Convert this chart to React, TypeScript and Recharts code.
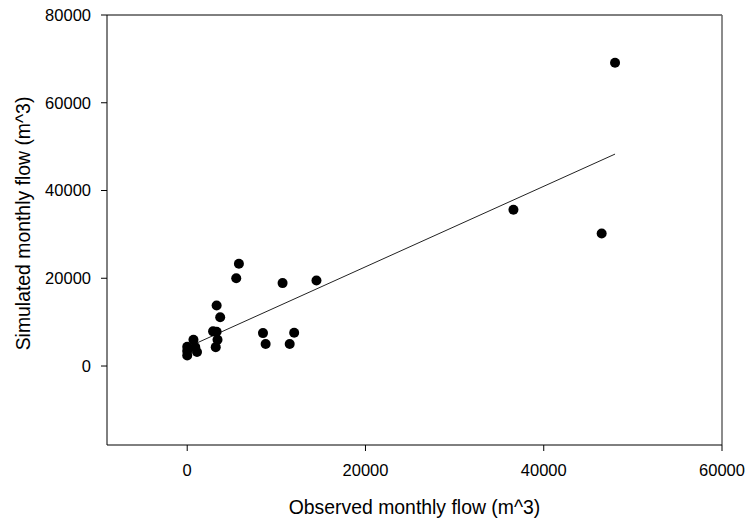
import React from "react";
import {
  ScatterChart,
  Scatter,
  XAxis,
  YAxis,
  ReferenceLine,
} from "recharts";

const observed = [0, 0, 0, 700, 1100, 900, 2900, 3300, 3400, 3200, 3300, 3700, 5500, 5800, 8500, 8800, 10700, 11500, 12000, 14500, 36600, 46500, 48000];
const simulated = [4400, 3400, 2400, 6000, 3200, 4300, 7900, 7800, 6000, 4300, 13800, 11100, 20000, 23300, 7500, 5000, 18900, 5000, 7600, 19500, 35600, 30200, 69100];

const fitX = [0, 48000];
const fitY = [4260, 48300];

const xTicks = [0, 20000, 40000, 60000];
const yTicks = [0, 20000, 40000, 60000, 80000];
const xDomain = [-9000, 60000];
const yDomain = [-18000, 80000];

const xTitle = "Observed monthly flow (m^3)";
const yTitle = "Simulated monthly flow  (m^3)";

const points = observed.map((x, i) => ({ x, y: simulated[i] }));

const FONT = "'Liberation Sans', Arial, sans-serif";

const Dot = (props: any) => <circle cx={props.cx} cy={props.cy} r={5} fill="#000" />;

export default function App() {
  return (
    <div style={{ position: "absolute", left: 0, top: 0, background: "#fff" }}>
      <ScatterChart
        width={746}
        height={523}
        margin={{ top: 15, right: 24, bottom: 0, left: 0 }}
        style={{ fontFamily: FONT }}
      >
        <XAxis
          type="number"
          dataKey="x"
          domain={xDomain}
          ticks={xTicks}
          allowDataOverflow
          height={78}
          tickSize={6}
          tickMargin={13}
          stroke="#000"
          tick={{ fill: "#000", fontSize: 16.5, fontFamily: FONT }}
          label={{
            content: (p: any) => {
              const vb = p.viewBox;
              return (
                <text
                  x={vb.x + vb.width / 2}
                  y={513.5}
                  textAnchor="middle"
                  fontSize={19.4}
                  fontFamily={FONT}
                  fill="#000"
                >
                  {xTitle}
                </text>
              );
            },
          }}
        />
        <YAxis
          type="number"
          dataKey="y"
          domain={yDomain}
          ticks={yTicks}
          allowDataOverflow
          width={107}
          tickSize={6}
          tickMargin={10}
          stroke="#000"
          tick={{ fill: "#000", fontSize: 16.5, fontFamily: FONT }}
          label={{
            content: () => {
              const cy = 223.5;
              return (
                <text
                  x={29.5}
                  y={cy}
                  transform={`rotate(-90 29.5 ${cy})`}
                  textAnchor="middle"
                  fontSize={19.4}
                  fontFamily={FONT}
                  fill="#000"
                >
                  {yTitle}
                </text>
              );
            },
          }}
        />
        <ReferenceLine y={yDomain[1]} stroke="#000" strokeWidth={1} />
        <ReferenceLine x={xDomain[1]} stroke="#666" strokeWidth={1.5} />
        <ReferenceLine
          segment={[
            { x: fitX[0], y: fitY[0] },
            { x: fitX[1], y: fitY[1] },
          ]}
          stroke="#222"
          strokeWidth={1}
        />
        <Scatter data={points} shape={Dot} isAnimationActive={false} />
      </ScatterChart>
    </div>
  );
}
